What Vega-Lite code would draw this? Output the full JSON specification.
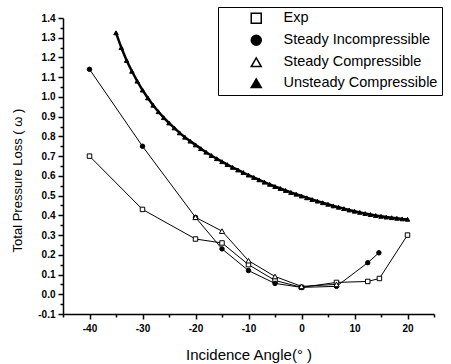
{
  "$schema": "https://vega.github.io/schema/vega-lite/v6.json",
  "width": 371,
  "height": 296,
  "autosize": {"type": "none"},
  "padding": {"left": 63, "top": 18, "right": 17, "bottom": 50},
  "background": "white",
  "config": {
    "view": {"stroke": null},
    "locale": {"number": {"decimal": ".", "thousands": ",", "grouping": [3], "currency": ["$", ""], "minus": "-"}},
    "axis": {
      "grid": false,
      "domainColor": "black",
      "domainWidth": 1.5,
      "tickColor": "black",
      "tickWidth": 1.5,
      "labelColor": "black",
      "labelFont": "Liberation Sans",
      "labelFontWeight": "bold",
      "labelFontSize": 10,
      "titleColor": "black",
      "titleFont": "Liberation Sans",
      "titleFontWeight": "normal",
      "titleFontSize": 14
    },
    "legend": {
      "labelFont": "Liberation Sans",
      "labelFontSize": 14.5,
      "labelColor": "black"
    }
  },
  "data": {
    "values": [
      {"series": "Exp", "x": -40, "y": 0.70},
      {"series": "Exp", "x": -30, "y": 0.43},
      {"series": "Exp", "x": -20, "y": 0.28},
      {"series": "Exp", "x": -15, "y": 0.26},
      {"series": "Exp", "x": -10, "y": 0.15},
      {"series": "Exp", "x": -5, "y": 0.07},
      {"series": "Exp", "x": 0, "y": 0.035},
      {"series": "Exp", "x": 6.6, "y": 0.06},
      {"series": "Exp", "x": 12.5, "y": 0.065},
      {"series": "Exp", "x": 14.7, "y": 0.08},
      {"series": "Exp", "x": 20, "y": 0.30},
      {"series": "Steady Incompressible", "x": -40, "y": 1.14},
      {"series": "Steady Incompressible", "x": -30, "y": 0.75},
      {"series": "Steady Incompressible", "x": -20, "y": 0.39},
      {"series": "Steady Incompressible", "x": -15, "y": 0.23},
      {"series": "Steady Incompressible", "x": -10, "y": 0.12},
      {"series": "Steady Incompressible", "x": -5, "y": 0.055},
      {"series": "Steady Incompressible", "x": 0, "y": 0.035},
      {"series": "Steady Incompressible", "x": 6.6, "y": 0.04},
      {"series": "Steady Incompressible", "x": 12.5, "y": 0.16},
      {"series": "Steady Incompressible", "x": 14.6, "y": 0.21},
      {"series": "Steady Compressible", "x": -20, "y": 0.39},
      {"series": "Steady Compressible", "x": -15, "y": 0.32},
      {"series": "Steady Compressible", "x": -10, "y": 0.17},
      {"series": "Steady Compressible", "x": -5, "y": 0.09},
      {"series": "Steady Compressible", "x": 0, "y": 0.04},
      {"series": "Steady Compressible", "x": 6.6, "y": 0.05},
      {"series": "Unsteady Compressible", "x": -35, "y": 1.325},
      {"series": "Unsteady Compressible", "x": -34, "y": 1.25},
      {"series": "Unsteady Compressible", "x": -33, "y": 1.185},
      {"series": "Unsteady Compressible", "x": -32, "y": 1.13},
      {"series": "Unsteady Compressible", "x": -31, "y": 1.08},
      {"series": "Unsteady Compressible", "x": -30, "y": 1.035},
      {"series": "Unsteady Compressible", "x": -29, "y": 0.995},
      {"series": "Unsteady Compressible", "x": -28, "y": 0.958},
      {"series": "Unsteady Compressible", "x": -27, "y": 0.925},
      {"series": "Unsteady Compressible", "x": -26, "y": 0.895},
      {"series": "Unsteady Compressible", "x": -25, "y": 0.868},
      {"series": "Unsteady Compressible", "x": -24, "y": 0.843},
      {"series": "Unsteady Compressible", "x": -23, "y": 0.818},
      {"series": "Unsteady Compressible", "x": -22, "y": 0.796},
      {"series": "Unsteady Compressible", "x": -21, "y": 0.776},
      {"series": "Unsteady Compressible", "x": -20, "y": 0.757},
      {"series": "Unsteady Compressible", "x": -19, "y": 0.738},
      {"series": "Unsteady Compressible", "x": -18, "y": 0.72},
      {"series": "Unsteady Compressible", "x": -17, "y": 0.703},
      {"series": "Unsteady Compressible", "x": -16, "y": 0.687},
      {"series": "Unsteady Compressible", "x": -15, "y": 0.672},
      {"series": "Unsteady Compressible", "x": -14, "y": 0.657},
      {"series": "Unsteady Compressible", "x": -13, "y": 0.643},
      {"series": "Unsteady Compressible", "x": -12, "y": 0.63},
      {"series": "Unsteady Compressible", "x": -11, "y": 0.617},
      {"series": "Unsteady Compressible", "x": -10, "y": 0.604},
      {"series": "Unsteady Compressible", "x": -9, "y": 0.592},
      {"series": "Unsteady Compressible", "x": -8, "y": 0.58},
      {"series": "Unsteady Compressible", "x": -7, "y": 0.568},
      {"series": "Unsteady Compressible", "x": -6, "y": 0.557},
      {"series": "Unsteady Compressible", "x": -5, "y": 0.546},
      {"series": "Unsteady Compressible", "x": -4, "y": 0.536},
      {"series": "Unsteady Compressible", "x": -3, "y": 0.526},
      {"series": "Unsteady Compressible", "x": -2, "y": 0.516},
      {"series": "Unsteady Compressible", "x": -1, "y": 0.507},
      {"series": "Unsteady Compressible", "x": 0, "y": 0.498},
      {"series": "Unsteady Compressible", "x": 1, "y": 0.489},
      {"series": "Unsteady Compressible", "x": 2, "y": 0.48},
      {"series": "Unsteady Compressible", "x": 3, "y": 0.472},
      {"series": "Unsteady Compressible", "x": 4, "y": 0.464},
      {"series": "Unsteady Compressible", "x": 5, "y": 0.456},
      {"series": "Unsteady Compressible", "x": 6, "y": 0.448},
      {"series": "Unsteady Compressible", "x": 7, "y": 0.441},
      {"series": "Unsteady Compressible", "x": 8, "y": 0.434},
      {"series": "Unsteady Compressible", "x": 9, "y": 0.427},
      {"series": "Unsteady Compressible", "x": 10, "y": 0.421},
      {"series": "Unsteady Compressible", "x": 11, "y": 0.415},
      {"series": "Unsteady Compressible", "x": 12, "y": 0.409},
      {"series": "Unsteady Compressible", "x": 13, "y": 0.404},
      {"series": "Unsteady Compressible", "x": 14, "y": 0.399},
      {"series": "Unsteady Compressible", "x": 15, "y": 0.395},
      {"series": "Unsteady Compressible", "x": 16, "y": 0.391},
      {"series": "Unsteady Compressible", "x": 17, "y": 0.388},
      {"series": "Unsteady Compressible", "x": 18, "y": 0.385},
      {"series": "Unsteady Compressible", "x": 19, "y": 0.382},
      {"series": "Unsteady Compressible", "x": 20, "y": 0.38}
    ]
  },
  "resolve": {"axis": {"x": "independent", "y": "independent"}},
  "layer": [
    {
      "mark": {"type": "line", "stroke": "black"},
      "encoding": {
        "x": {
          "field": "x", "type": "quantitative",
          "scale": {"domain": [-45, 25], "nice": false, "zero": false},
          "axis": {"orient": "bottom", "title": "Incidence Angle(° )", "titleFontSize": 15, "values": [-40, -30, -20, -10, 0, 10, 20], "format": "d", "tickSize": 5, "labelPadding": 4, "titlePadding": 14}
        },
        "y": {
          "field": "y", "type": "quantitative",
          "scale": {"domain": [-0.1, 1.4], "nice": false, "zero": false},
          "axis": {"orient": "left", "title": "Total Pressure Loss ( ω )", "titleFontSize": 13, "titleY": 162, "values": [-0.1, 0, 0.1, 0.2, 0.3, 0.4, 0.5, 0.6, 0.7, 0.8, 0.9, 1.0, 1.1, 1.2, 1.3, 1.4], "format": ".1f", "tickSize": 5, "labelPadding": 3, "titlePadding": 13}
        },
        "detail": {"field": "series"},
        "strokeWidth": {
          "condition": {"test": "datum.series === 'Unsteady Compressible'", "value": 2.5},
          "value": 1
        }
      }
    },
    {
      "mark": {"type": "point", "stroke": "black", "strokeWidth": 1, "opacity": 1},
      "encoding": {
        "x": {
          "field": "x", "type": "quantitative",
          "axis": {"orient": "bottom", "title": null, "labels": false, "domain": false, "values": [-45, -35, -25, -15, -5, 5, 15, 25], "tickSize": 3}
        },
        "y": {
          "field": "y", "type": "quantitative",
          "axis": {"orient": "left", "title": null, "labels": false, "domain": false, "values": [-0.05, 0.05, 0.15, 0.25, 0.35, 0.45, 0.55, 0.65, 0.75, 0.85, 0.95, 1.05, 1.15, 1.25, 1.35], "tickSize": 3}
        },
        "shape": {
          "field": "series", "type": "nominal",
          "scale": {"domain": ["Exp", "Steady Incompressible", "Steady Compressible", "Unsteady Compressible"], "range": ["square", "circle", "triangle-up", "triangle-up"]},
          "legend": {
            "title": null,
            "orient": "none",
            "legendX": 155,
            "legendY": -11,
            "fillColor": "white",
            "strokeColor": "black",
            "padding": 4,
            "symbolOffset": 27,
            "labelOffset": 20,
            "rowPadding": 5,
            "encode": {
              "symbols": {
                "update": {
                  "stroke": {"value": "black"},
                  "strokeWidth": {"value": 1},
                  "size": {"value": 36},
                  "opacity": {"value": 1}
                }
              }
            }
          }
        },
        "fill": {
          "field": "series", "type": "nominal",
          "scale": {"domain": ["Exp", "Steady Incompressible", "Steady Compressible", "Unsteady Compressible"], "range": ["white", "black", "white", "black"]}
        },
        "size": {
          "condition": {"test": "datum.series === 'Steady Compressible'", "value": 28},
          "value": 20
        }
      }
    }
  ]
}
